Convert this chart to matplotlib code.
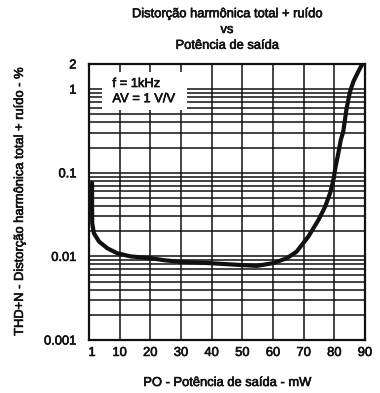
import matplotlib
matplotlib.use("Agg")
import matplotlib.pyplot as plt
from matplotlib.patches import Rectangle
from matplotlib.ticker import LogLocator, NullFormatter
import matplotlib.patheffects as pe

plt.rcParams['font.family'] = ['Liberation Sans', 'DejaVu Sans']

# Data
power_mw = [1.0, 1.0, 1.05, 1.6, 3.3, 6.0, 9.2, 13.6, 20.2, 24.5, 29.7, 39.5,
            49.2, 54.7, 60.0, 64.5, 67.7, 71.5, 74.8, 77.0, 78.6, 79.7, 80.4,
            81.3, 82.1, 82.9, 84.0, 85.1, 86.2, 87.8, 89.1]
thd_pct = [0.0755, 0.039, 0.0249, 0.0189, 0.0150, 0.0125, 0.0109, 0.0100,
           0.0095, 0.0090, 0.0086, 0.0083, 0.0079, 0.0077, 0.0083, 0.0095,
           0.0114, 0.0172, 0.0272, 0.0393, 0.0569, 0.082, 0.118, 0.171, 0.247,
           0.31, 0.59, 0.93, 1.23, 1.62, 1.99]

x_ticks = [1, 10, 20, 30, 40, 50, 60, 70, 80, 90]
x_tick_labels = ['1', '10', '20', '30', '40', '50', '60', '70', '80', '90']
x_grid = [10, 20, 30, 40, 50, 60, 70, 80]
y_ticks = [0.001, 0.01, 0.1, 1, 2]
y_tick_labels = ['0.001', '0.01', '0.1', '1', '2']

title = "Distorção harmônica total + ruído\nvs\nPotência de saída"
xlabel = "PO - Potência de saída - mW"
ylabel = "THD+N - Distorção harmônica total + ruído - %"
note = "f = 1kHz\nAV = 1 V/V"

ink = '#111111'
fs = 9.3
fx = [pe.withStroke(linewidth=0.45, foreground=ink)]

fig = plt.figure(figsize=(3.8, 3.93), dpi=100)
ax = fig.add_axes([89/380, 53/393, 276/380, 276/393])

ax.set_yscale('log')
ax.set_xlim(0, 90)
ax.set_ylim(0.001, 2)

# horizontal grid (log decades + minor)
ax.yaxis.set_minor_locator(LogLocator(base=10, subs=[2, 3, 4, 5, 6, 7, 8, 9]))
ax.yaxis.set_minor_formatter(NullFormatter())
ax.grid(True, which='both', axis='y', color=ink, lw=1.1, zorder=1)
# vertical grid
ax.vlines(x_grid, 0.001, 2, color=ink, lw=1.1, zorder=1)

ax.set_xticks(x_ticks)
ax.set_xticklabels(x_tick_labels)
ax.set_yticks(y_ticks)
ax.set_yticklabels(y_tick_labels)
ax.tick_params(axis='both', which='both', length=0, labelsize=fs, colors=ink)
ax.tick_params(axis='x', pad=5)
ax.tick_params(axis='y', pad=9)
for lab in ax.get_xticklabels() + ax.get_yticklabels():
    lab.set_path_effects(fx)

for s in ax.spines.values():
    s.set_linewidth(1.6)
    s.set_color(ink)

# white note box covering the grid
ax.add_patch(Rectangle((0.047, 0.833), 0.308, 0.138, transform=ax.transAxes,
                       facecolor='white', edgecolor='none', zorder=2))
ax.text(0.085, 0.900, note, transform=ax.transAxes, fontsize=fs, color=ink,
        va='center', ha='left', linespacing=1.35, zorder=3, path_effects=fx)

ax.plot(power_mw, thd_pct, color=ink, lw=3.0, solid_capstyle='round',
        solid_joinstyle='round', zorder=4)

fig.text(227/380, 1 - 30/393, title, ha='center', va='center', fontsize=fs,
         color=ink, linespacing=1.42, path_effects=fx)
ax.set_xlabel(xlabel, fontsize=fs, color=ink, labelpad=13, path_effects=fx)
ax.set_ylabel(ylabel, fontsize=fs, color=ink, labelpad=13, path_effects=fx)

fig.savefig('out.png', dpi=100, facecolor='white')
